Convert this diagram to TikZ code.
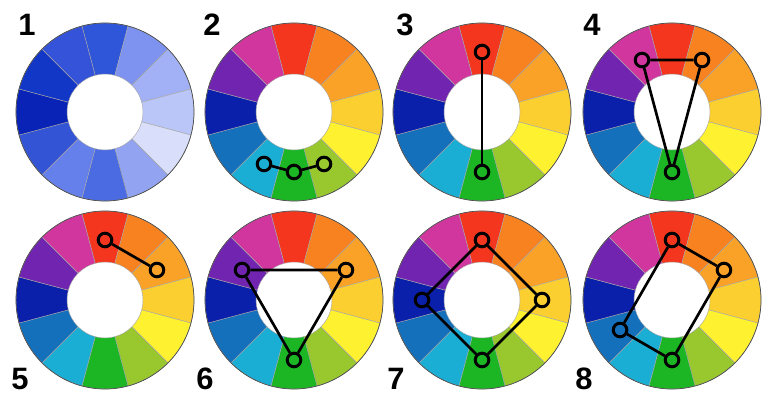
\documentclass[tikz,border=0pt]{standalone}
\usepackage{fontspec}
\setsansfont{Liberation Sans}
\usetikzlibrary{positioning}
\definecolor{Red}{HTML}{F3361D}
\definecolor{RedOrange}{HTML}{F8821F}
\definecolor{Orange}{HTML}{FAA227}
\definecolor{Gold}{HTML}{FCCF31}
\definecolor{Yellow}{HTML}{FEF130}
\definecolor{Lime}{HTML}{98C82D}
\definecolor{Green}{HTML}{1CB523}
\definecolor{Cyan}{HTML}{1BAED4}
\definecolor{Blue}{HTML}{1570BC}
\definecolor{Navy}{HTML}{0A20AA}
\definecolor{Purple}{HTML}{7024B0}
\definecolor{Magenta}{HTML}{D0369E}
\definecolor{BlueA}{HTML}{2F55D8}
\definecolor{BlueB}{HTML}{7E93F0}
\definecolor{BlueC}{HTML}{A2B1F5}
\definecolor{BlueD}{HTML}{BBC6F8}
\definecolor{BlueE}{HTML}{D9DFFB}
\definecolor{BlueF}{HTML}{92A4F1}
\definecolor{BlueG}{HTML}{4A6BE2}
\definecolor{BlueH}{HTML}{6580EA}
\definecolor{BlueI}{HTML}{3454D6}
\definecolor{BlueJ}{HTML}{0823B6}
\definecolor{BlueK}{HTML}{1236C6}
\definecolor{BlueL}{HTML}{3453D8}
\newcommand{\colorwheel}[4]{%
  \coordinate (#1) at (#2,#3);
  \foreach \c [count=\i from 0] in {#4} {
    \pgfmathsetmacro{\a}{90-30*\i}
    \filldraw[seg,fill=\c,shift={(#2,#3)}] (\a-15:38) -- (\a-15:89)
      arc[start angle=\a-15,end angle=\a+15,radius=89] -- (\a+15:38)
      arc[start angle=\a+15,end angle=\a-15,radius=38] -- cycle;
  }
  \draw[rim] (#1) circle[radius=89];
}

\begin{document}
\begin{tikzpicture}[
  x=0.025cm,y=0.025cm,
  seg/.style={draw=black!35,line width=0.3pt},
  rim/.style={draw=black!70,line width=0.5pt},
  dot/.style={circle,draw=black,line width=2.1pt,minimum size=0.34cm,inner sep=0pt},
  link/.style={line width=1.9pt},
  num/.style={font=\sffamily\bfseries\fontsize{22}{22}\selectfont}
]
  \useasboundingbox (0,0) rectangle (773,395);
  \colorwheel{w1}{105}{283}{BlueA,BlueB,BlueC,BlueD,BlueE,BlueF,BlueG,BlueH,BlueI,BlueJ,BlueK,BlueL}
  \colorwheel{w2}{294}{283}{Red,RedOrange,Orange,Gold,Yellow,Lime,Green,Cyan,Blue,Navy,Purple,Magenta}
  \colorwheel{w3}{482}{283}{Red,RedOrange,Orange,Gold,Yellow,Lime,Green,Cyan,Blue,Navy,Purple,Magenta}
  \colorwheel{w4}{672}{283}{Red,RedOrange,Orange,Gold,Yellow,Lime,Green,Cyan,Blue,Navy,Purple,Magenta}
  \colorwheel{w5}{105}{95}{Red,RedOrange,Orange,Gold,Yellow,Lime,Green,Cyan,Blue,Navy,Purple,Magenta}
  \colorwheel{w6}{294}{95}{Red,RedOrange,Orange,Gold,Yellow,Lime,Green,Cyan,Blue,Navy,Purple,Magenta}
  \colorwheel{w7}{482}{95}{Red,RedOrange,Orange,Gold,Yellow,Lime,Green,Cyan,Blue,Navy,Purple,Magenta}
  \colorwheel{w8}{672}{95}{Red,RedOrange,Orange,Gold,Yellow,Lime,Green,Cyan,Blue,Navy,Purple,Magenta}

  \node[num] (n1) at (27,370) {1};
  \node[num] (n2) at (212,370) {2};
  \node[num] (n3) at (405,370) {3};
  \node[num] (n4) at (592,370) {4};
  \node[num] (n5) at (20,16) {5};
  \node[num] (n6) at (205,16) {6};
  \node[num] (n7) at (396,16) {7};
  \node[num] (n8) at (584,16) {8};

  \node[dot] (a1) at ([shift={(-120:60)}]w2) {};
  \node[dot] (a2) at ([shift={(-90:60)}]w2) {};
  \node[dot] (a3) at ([shift={(-60:60)}]w2) {};
  \draw[link] (a1) -- (a2) -- (a3);

  \node[dot] (b1) at ([shift={(90:60)}]w3) {};
  \node[dot] (b2) at ([shift={(-90:60)}]w3) {};
  \draw[link] (b1) -- (b2);

  \node[dot] (c1) at ([shift={(120:60)}]w4) {};
  \node[dot] (c2) at ([shift={(60:60)}]w4) {};
  \node[dot] (c3) at ([shift={(-90:60)}]w4) {};
  \draw[link] (c1) -- (c2) -- (c3) -- (c1);

  \node[dot] (d1) at ([shift={(90:60)}]w5) {};
  \node[dot] (d2) at ([shift={(30:60)}]w5) {};
  \draw[link] (d1) -- (d2);

  \node[dot] (e1) at ([shift={(150:60)}]w6) {};
  \node[dot] (e2) at ([shift={(30:60)}]w6) {};
  \node[dot] (e3) at ([shift={(-90:60)}]w6) {};
  \draw[link] (e1) -- (e2) -- (e3) -- (e1);

  \node[dot] (f1) at ([shift={(90:60)}]w7) {};
  \node[dot] (f2) at ([shift={(0:60)}]w7) {};
  \node[dot] (f3) at ([shift={(-90:60)}]w7) {};
  \node[dot] (f4) at ([shift={(180:60)}]w7) {};
  \draw[link] (f1) -- (f2) -- (f3) -- (f4) -- (f1);

  \node[dot] (g1) at ([shift={(90:60)}]w8) {};
  \node[dot] (g2) at ([shift={(30:60)}]w8) {};
  \node[dot] (g3) at ([shift={(-90:60)}]w8) {};
  \node[dot] (g4) at ([shift={(210:60)}]w8) {};
  \draw[link] (g1) -- (g2) -- (g3) -- (g4) -- (g1);
\end{tikzpicture}
\end{document}
